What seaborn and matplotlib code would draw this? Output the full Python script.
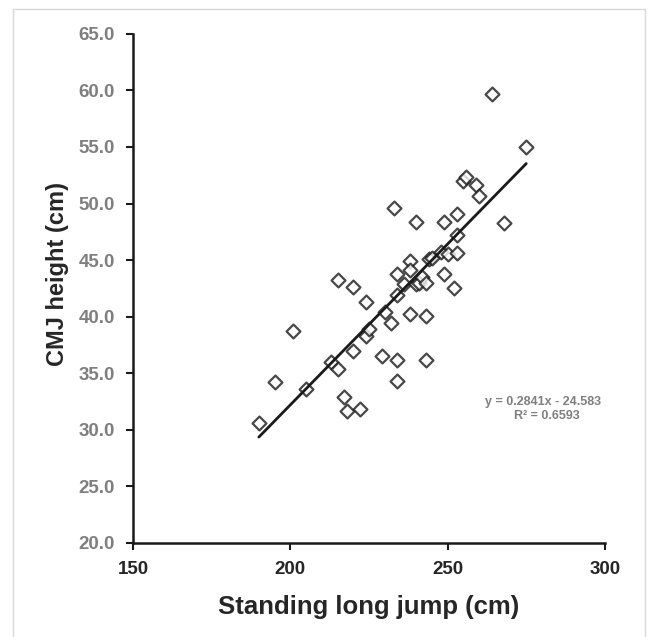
import matplotlib
matplotlib.use("Agg")
import matplotlib.pyplot as plt
import seaborn as sns
import pandas as pd
from matplotlib.patches import Rectangle

# Data
slj = [190, 195, 201, 205, 213, 215, 215, 217, 218, 220, 220, 222, 224, 224, 225,
       229, 230, 232, 233, 234, 234, 234, 234, 236, 238, 238, 238, 240, 240, 241,
       242, 243, 243, 243, 244, 245, 248, 249, 249, 250, 252, 253, 253, 253, 255,
       256, 259, 260, 264, 268, 275]
cmj = [30.6, 34.2, 38.7, 33.6, 36.0, 35.4, 43.2, 32.9, 31.7, 37.0, 42.6, 31.8, 38.3, 41.3, 38.9,
       36.5, 40.4, 39.4, 49.6, 34.3, 36.2, 41.9, 43.8, 42.9, 40.2, 44.9, 44.1, 48.4, 42.9, 43.0,
       43.5, 36.2, 40.1, 43.0, 45.1, 45.2, 45.7, 48.4, 43.8, 45.5, 42.5, 47.2, 49.1, 45.6, 52.0,
       52.3, 51.6, 50.7, 59.7, 48.3, 55.0]
eq_text = "y = 0.2841x - 24.583"
r2_text = "R\u00b2 = 0.6593"
x_ticks = [150, 200, 250, 300]
y_ticks = [20, 25, 30, 35, 40, 45, 50, 55, 60, 65]

df = pd.DataFrame({"slj": slj, "cmj": cmj})

sns.set_theme(style="white")
plt.rcParams['font.family'] = ['Liberation Sans', 'DejaVu Sans']

fig = plt.figure(figsize=(6.49, 6.37), dpi=100)
ax = fig.add_axes([0.205, 0.1476, 0.727, 0.7994])

fig.patches.append(Rectangle((13/649, -0.01), (645-13)/649, 1 - 9/637 + 0.01,
                             transform=fig.transFigure, fill=False,
                             edgecolor="#d9d9d9", linewidth=1.0, zorder=-1))

sns.regplot(data=df, x="slj", y="cmj", ax=ax, ci=None, truncate=True,
            marker="D",
            scatter_kws=dict(s=50, facecolors="white", edgecolors="#1a1a1a",
                             linewidths=1.6, zorder=3),
            line_kws=dict(color="#1a1a1a", linewidth=2.0, zorder=4))

ax.set_xlim(150, 300)
ax.set_ylim(20, 65)
ax.set_xticks(x_ticks)
ax.set_yticks(y_ticks)
ax.set_xticklabels([str(t) for t in x_ticks], fontsize=13.5, fontweight="bold", color="#262626")
ax.set_yticklabels([f"{t:.1f}" for t in y_ticks], fontsize=13.5, fontweight="bold", color="#7f7f7f")

for side in ["top", "right"]:
    ax.spines[side].set_visible(False)
for side in ["left", "bottom"]:
    ax.spines[side].set_color("#1a1a1a")
    ax.spines[side].set_linewidth(1.8)
ax.tick_params(axis="both", direction="out", length=5, width=1.5, color="#1a1a1a",
               left=True, bottom=True)
ax.tick_params(axis="y", pad=8)
ax.tick_params(axis="x", pad=8)

ax.set_xlabel("Standing long jump (cm)", fontsize=18.5, fontweight="bold", color="#262626")
ax.xaxis.set_label_coords(0.5, -0.102)
ax.set_ylabel("CMJ height (cm)", fontsize=17, fontweight="bold", color="#262626")
ax.yaxis.set_label_coords(-0.136, 0.529)

ax.text(280.5, 32.5, eq_text, ha="center", va="center", fontsize=9, fontweight="bold", color="#7f7f7f")
ax.text(281.5, 31.2, r2_text, ha="center", va="center", fontsize=9, fontweight="bold", color="#7f7f7f")

ax.grid(False)
fig.savefig("out.png", dpi=100)
